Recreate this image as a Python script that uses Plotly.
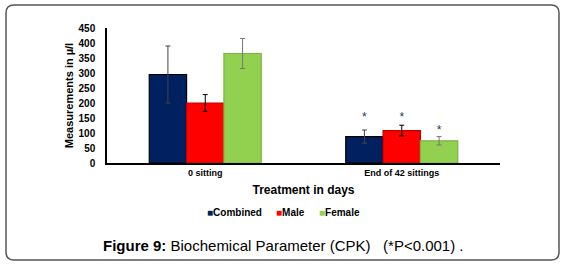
import plotly.graph_objects as go

categories = ["0 sitting", "End of 42 sittings"]
series_names = ["Combined", "Male", "Female"]
combined = [295, 88]
male = [200, 108]
female = [365, 74]
combined_err = [95, 22]
male_err = [28, 18]
female_err = [50, 14]
star_y = [None, 150]
star_y_male = [None, 150]
star_y_female = [None, 108]
y_ticks = [0, 50, 100, 150, 200, 250, 300, 350, 400, 450]

colors = ["#002060", "#FF0000", "#92D050"]
edge = ["#000000", "#C00000", "#7CB342"]
errc = ["#444444", "#000000", "#777777"]
FONT = "Liberation Sans, Arial, sans-serif"

L, R, T, B = 107, 500, 28, 163
def px(xp):
    return (xp - L) / (R - L)
def py(yp):
    return (B - yp) / (B - T)

fig = go.Figure()
vals = [combined, male, female]
errs = [combined_err, male_err, female_err]
stars = [star_y, star_y_male, star_y_female]
for i, name in enumerate(series_names):
    fig.add_trace(go.Bar(
        x=categories, y=vals[i], name=name, offsetgroup=str(i),
        marker=dict(color=colors[i], line=dict(color=edge[i], width=1.2)),
        error_y=dict(type="data", array=errs[i], color=errc[i], thickness=1, width=2.5),
        showlegend=False,
    ))
for i, name in enumerate(series_names):
    fig.add_trace(go.Scatter(
        x=categories, y=stars[i], mode="text", text=["*" if v is not None else "" for v in stars[i]],
        textfont=dict(family=FONT, size=12, color="#1F3864"), offsetgroup=str(i),
        showlegend=False, hoverinfo="skip",
    ))
legend_ids = ["legend", "legend2", "legend3"]
legend_text_x = [207, 276, 319]  # pixel where the coloured square starts
for i, name in enumerate(series_names):
    fig.add_trace(go.Scatter(
        x=[None], y=[None], mode="markers",
        name=f"<span style='color:{colors[i]}'>■</span>{name}",
        marker=dict(symbol="square", size=1, color="rgba(0,0,0,0)"),
        legend=legend_ids[i],
    ))

x0, x1, y0, y1, r = 6, 559, 5, 260, 8
path = (f"M {px(x0+r)} {py(y0)} L {px(x1-r)} {py(y0)} Q {px(x1)} {py(y0)} {px(x1)} {py(y0+r)} "
        f"L {px(x1)} {py(y1-r)} Q {px(x1)} {py(y1)} {px(x1-r)} {py(y1)} "
        f"L {px(x0+r)} {py(y1)} Q {px(x0)} {py(y1)} {px(x0)} {py(y1-r)} "
        f"L {px(x0)} {py(y0+r)} Q {px(x0)} {py(y0)} {px(x0+r)} {py(y0)} Z")
fig.add_shape(type="path", path=path, xref="paper", yref="paper",
              line=dict(color="#555555", width=1.5), layer="below")

fig.add_annotation(
    x=px(283), y=py(245), xref="paper", yref="paper", showarrow=False,
    text="<b>Figure 9:</b> Biochemical Parameter (CPK)   (*P<0.001) .",
    font=dict(family=FONT, size=15, color="#000000"), xanchor="center", yanchor="middle",
)

leg_common = dict(orientation="h", yanchor="middle", y=py(212), xanchor="left",
                  font=dict(family=FONT, size=10, weight="bold"), itemwidth=30,
                  bgcolor="rgba(0,0,0,0)")
layout_legends = {}
for i, lid in enumerate(legend_ids):
    layout_legends[lid] = dict(leg_common, x=px(legend_text_x[i] - 40))

fig.update_layout(
    width=563, height=267,
    margin=dict(l=L, r=563 - R, t=T, b=267 - B),
    paper_bgcolor="white", plot_bgcolor="white",
    barmode="group", bargap=0.43, bargroupgap=0,
    scattermode="group", scattergap=0.43,
    font=dict(family=FONT, color="#000000"),
    xaxis=dict(showline=True, linecolor="black", linewidth=2, ticks="",
               tickfont=dict(family=FONT, size=9, weight="bold"),
               title=dict(text="Treatment in days", font=dict(family=FONT, size=12, weight="bold"), standoff=9)),
    yaxis=dict(range=[0, 450], tickvals=y_ticks, showgrid=False, zeroline=False,
               showline=True, linecolor="black", linewidth=1.5, ticks="", ticklabelstandoff=8,
               tickfont=dict(family=FONT, size=10, weight="bold"),
               title=dict(text="Measurements in µ/l", font=dict(family=FONT, size=11, weight="bold"), standoff=3)),
    **layout_legends,
)

fig.write_html("out.html", config={"displayModeBar": False},
               post_script="document.body.style.margin='0';")
